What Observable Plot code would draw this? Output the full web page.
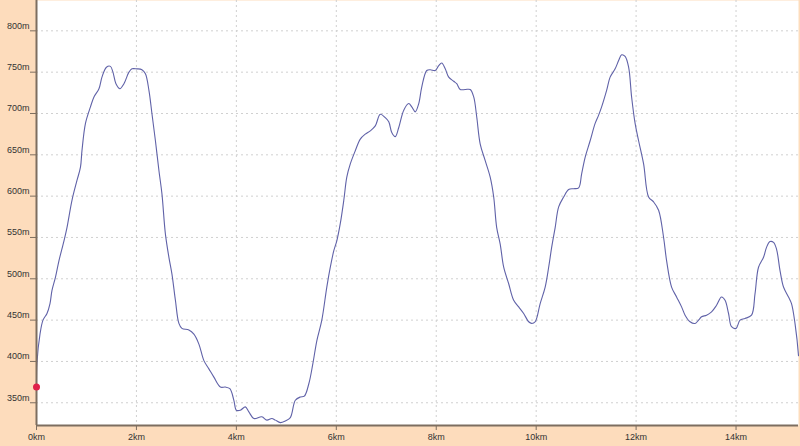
<!DOCTYPE html>
<html>
<head>
<meta charset="utf-8">
<script src="https://cdn.jsdelivr.net/npm/d3@7"></script>
<script src="https://cdn.jsdelivr.net/npm/@observablehq/plot@0.6"></script>
<style>
  html, body { margin: 0; padding: 0; background: #fddcbc; }
  #chart { width: 800px; height: 446px; }
</style>
</head>
<body>
<div id="chart"></div>
<script>
const distanceKm = [
  0, 0.01, 0.07, 0.13, 0.21, 0.27, 0.31, 0.38, 0.45, 0.55, 0.61, 0.71, 0.81, 0.88, 0.91, 0.98,
  1.08, 1.15, 1.25, 1.31, 1.40, 1.48, 1.53, 1.59, 1.67, 1.75, 1.85, 1.91, 2.01, 2.11, 2.18,
  2.25, 2.31, 2.38, 2.45, 2.51, 2.58, 2.65, 2.71, 2.78, 2.85, 2.91, 3.05, 3.15, 3.25, 3.35,
  3.45, 3.55, 3.68, 3.78, 3.87, 3.95, 4.0, 4.08, 4.18, 4.25, 4.35, 4.51, 4.61, 4.71, 4.78,
  4.88, 4.98, 5.08, 5.18, 5.28, 5.36, 5.45, 5.53, 5.61, 5.71, 5.81, 5.88, 5.95, 6.01, 6.08,
  6.15, 6.21, 6.28, 6.38, 6.48, 6.58, 6.68, 6.78, 6.88, 6.98, 7.05, 7.11, 7.18, 7.25, 7.35,
  7.45, 7.51, 7.58, 7.65, 7.71, 7.81, 7.88, 7.98, 8.05, 8.11, 8.18, 8.25, 8.35, 8.41, 8.48,
  8.58, 8.68, 8.75, 8.81, 8.88, 8.98, 9.08, 9.15, 9.21, 9.28, 9.35, 9.45, 9.55, 9.65, 9.75,
  9.85, 9.91, 9.98, 10.08, 10.18, 10.25, 10.31, 10.38, 10.45, 10.55, 10.65, 10.75, 10.85,
  10.91, 10.98, 11.08, 11.18, 11.25, 11.31, 11.41, 11.48, 11.58, 11.65, 11.71, 11.78, 11.85,
  11.91, 11.98, 12.05, 12.15, 12.25, 12.35, 12.45, 12.55, 12.61, 12.71, 12.81, 12.91, 12.98,
  13.08, 13.18, 13.25, 13.31, 13.41, 13.51, 13.61, 13.71, 13.78, 13.85, 13.91, 14.0, 14.08,
  14.18, 14.31, 14.38, 14.45, 14.55, 14.61, 14.68, 14.75, 14.81, 14.88, 14.95, 15.05, 15.11,
  15.18, 15.25
];
const elevationM = [
  369, 399, 433, 450, 458, 470, 486, 502, 522, 546, 562, 595, 619, 635, 655, 688,
  708, 720, 730, 744, 756, 757, 750, 736, 730, 736, 750, 754, 754, 753, 748,
  728, 700, 667, 631, 603, 554, 526, 506, 474, 446, 440, 438, 433, 421, 401,
  391, 381, 369, 369, 367, 353, 341, 341, 345, 339, 331, 333, 329, 331, 329,
  326, 328, 332, 353, 357, 358, 373, 397, 425, 450, 490, 514, 534, 546, 567,
  595, 623, 639, 655, 669, 675, 679, 685, 699, 695, 690, 677, 672, 683, 704,
  712, 708, 702, 712, 732, 752, 753, 752, 758, 761, 754, 744, 739, 736, 729,
  729, 729, 720, 696, 663, 643, 623, 599, 562, 542, 514, 494, 474, 466, 458,
  448, 446, 448, 470, 490, 514, 538, 562, 587, 599, 608, 609, 610,
  627, 647, 667, 688, 698, 708, 728, 744, 754, 764, 771, 769, 756,
  720, 688, 667, 639, 599, 593, 583, 550, 522, 490, 478, 466, 456,
  448, 446, 450, 454, 456, 460, 468, 478, 474, 458, 442, 440, 450,
  452, 456, 482, 514, 526, 538, 545, 544, 536, 510, 490, 478, 470,
  446, 407
];
const xTicks = [0, 2, 4, 6, 8, 10, 12, 14];
const yTicks = [350, 400, 450, 500, 550, 600, 650, 700, 750, 800];

const profile = distanceKm.map((d, i) => ({km: d, m: elevationM[i]}));
const start = [profile[0]];

const axisColor = "#7d6e60";
const chart = Plot.plot({
  width: 800,
  height: 446,
  marginLeft: 36,
  marginRight: 2,
  marginTop: 0,
  marginBottom: 21,
  style: {background: "#fddcbc", fontFamily: "'Liberation Sans', Arial, sans-serif", fontSize: "9px", color: "#333"},
  x: {domain: [0, 15.25]},
  y: {domain: [322.5, 836.7]},
  marks: [
    Plot.frame({fill: "white", stroke: "none"}),
    Plot.gridX(xTicks.filter(d => d > 0), {stroke: "#d0d0d0", strokeOpacity: 1, strokeDasharray: "2,3"}),
    Plot.gridY(yTicks, {stroke: "#d0d0d0", strokeOpacity: 1, strokeDasharray: "2,3"}),
    Plot.line(profile, {x: "km", y: "m", stroke: "#6062a8", strokeWidth: 1.1, curve: "catmull-rom"}),
    Plot.ruleX([0], {stroke: axisColor, strokeWidth: 2}),
    Plot.ruleY([322.5], {stroke: axisColor, strokeWidth: 2}),
    Plot.dot(start, {x: "km", y: "m", r: 3.5, fill: "#e0204a", stroke: "none"}),
    Plot.axisX(xTicks, {tickSize: 5, tickPadding: 3, stroke: axisColor, fill: "#333", tickFormat: d => d + "km", label: null}),
    Plot.axisY(yTicks, {tickSize: 6, stroke: axisColor, tickFormat: () => "", label: null}),
    Plot.axisY(yTicks, {tickSize: 0, tickPadding: 7, dy: -5, fill: "#333", tickFormat: d => d + "m", label: null})
  ]
});
document.getElementById("chart").appendChild(chart);
</script>
</body>
</html>
